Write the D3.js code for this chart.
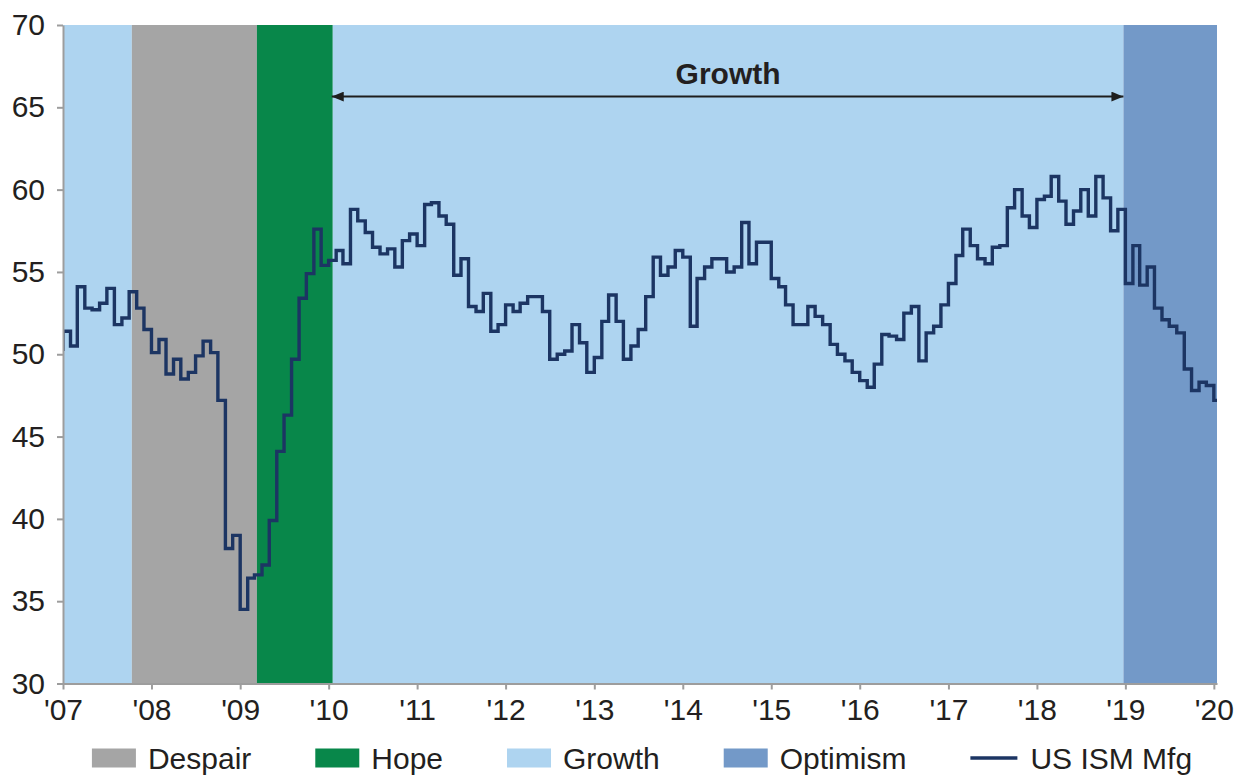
<!DOCTYPE html>
<html>
<head>
<meta charset="utf-8">
<script src="https://cdn.jsdelivr.net/npm/d3@7"></script>
<style>
  body { margin: 0; background: #ffffff; }
  svg { display: block; }
  text { font-family: "Liberation Sans", Arial, Helvetica, sans-serif; fill: #231f20; }
</style>
</head>
<body>
<svg id="chart" width="1238" height="776"></svg>
<script>
// US ISM Manufacturing PMI, monthly readings starting November 2006.
// Each reading is shown from the start of the month after the one it covers.
const firstMonth = "2006-11";
const ismValues = [
  50.3, 51.4,
  50.5, 54.1, 52.8, 52.7, 53.1, 54.0, 51.8, 52.2, 53.8, 52.8, 51.5, 50.1,   // 2007
  50.9, 48.8, 49.7, 48.5, 48.9, 49.9, 50.8, 50.1, 47.2, 38.2, 39.0, 34.5,   // 2008
  36.4, 36.6, 37.2, 39.9, 44.1, 46.3, 49.7, 53.4, 54.9, 57.6, 55.4, 55.7,   // 2009
  56.3, 55.5, 58.8, 58.1, 57.4, 56.5, 56.1, 56.4, 55.3, 56.9, 57.3, 56.6,   // 2010
  59.1, 59.2, 58.4, 57.9, 54.8, 55.8, 52.9, 52.6, 53.7, 51.4, 51.8, 53.0,   // 2011
  52.6, 53.1, 53.5, 53.5, 52.6, 49.7, 50.0, 50.2, 51.8, 50.7, 48.9, 49.8,   // 2012
  52.0, 53.6, 52.0, 49.7, 50.5, 51.5, 53.5, 55.9, 54.8, 55.3, 56.3, 55.9,   // 2013
  51.7, 54.6, 55.3, 55.8, 55.8, 55.0, 55.3, 58.0, 55.5, 56.8, 56.8, 54.6,   // 2014
  54.1, 53.0, 51.8, 51.8, 52.9, 52.3, 51.8, 50.6, 50.0, 49.6, 48.9, 48.4,   // 2015
  48.0, 49.4, 51.2, 51.1, 50.9, 52.5, 52.9, 49.6, 51.3, 51.7, 53.0, 54.3,   // 2016
  56.0, 57.6, 56.6, 55.8, 55.5, 56.5, 56.6, 58.9, 60.0, 58.4, 57.7, 59.4,   // 2017
  59.6, 60.8, 59.3, 57.9, 58.7, 60.0, 58.4, 60.8, 59.5, 57.5, 58.8, 54.3,   // 2018
  56.6, 54.2, 55.3, 52.8, 52.1, 51.7, 51.3, 49.1, 47.8, 48.3, 48.1, 47.2    // 2019
];

// Market-cycle phases shaded behind the line
const phaseNames  = ["Growth", "Despair", "Hope", "Growth", "Optimism"];
const phaseStarts = ["2007-01-01", "2007-10-12", "2009-03-11", "2010-01-18", "2018-12-24"];
const phaseEnds   = ["2007-10-12", "2009-03-11", "2010-01-18", "2018-12-24", "2020-01-14"];
const phaseColors = { Despair: "#a5a5a5", Hope: "#08874a", Growth: "#aed4f0", Optimism: "#7399c8" };

const yTicks = [30, 35, 40, 45, 50, 55, 60, 65, 70];
const xTickYears  = [2007, 2008, 2009, 2010, 2011, 2012, 2013, 2014, 2015, 2016, 2017, 2018, 2019, 2020];
const xTickLabels = ["'07", "'08", "'09", "'10", "'11", "'12", "'13", "'14", "'15", "'16", "'17", "'18", "'19", "'20"];

const legendNames = ["Despair", "Hope", "Growth", "Optimism", "US ISM Mfg"];
const lineColor = "#1c3563";

// Bracket marking the long growth phase
const bracketLabel = "Growth";
const bracketLevel = 65.65;
const bracketFrom = "2010-01-18";
const bracketTo = "2018-12-24";

const parseDay = d3.timeParse("%Y-%m-%d");
const parseMonth = d3.timeParse("%Y-%m");

const svg = d3.select("#chart");
const plot = { left: 63, right: 1217, top: 25, bottom: 683.5 };

const x = d3.scaleTime()
  .domain([parseDay(phaseStarts[0]), parseDay(phaseEnds[phaseEnds.length - 1])])
  .range([plot.left, plot.right]);
const y = d3.scaleLinear().domain([30, 70]).range([plot.bottom, plot.top]);

svg.append("defs").append("clipPath").attr("id", "plot-clip")
  .append("rect")
  .attr("x", plot.left).attr("y", plot.top)
  .attr("width", plot.right - plot.left).attr("height", plot.bottom - plot.top);

// Phase bands
const phases = phaseNames.map((name, i) => ({ name, start: parseDay(phaseStarts[i]), end: parseDay(phaseEnds[i]) }));
svg.append("g").selectAll("rect").data(phases).join("rect")
  .attr("x", d => x(d.start))
  .attr("width", d => x(d.end) - x(d.start))
  .attr("y", y(70))
  .attr("height", y(30) - y(70))
  .attr("fill", d => phaseColors[d.name]);

// Step line
const start = parseMonth(firstMonth);
const points = ismValues.map((v, i) => ({ date: d3.timeMonth.offset(start, i + 1), value: v }));
points.push({ date: x.domain()[1], value: ismValues[ismValues.length - 1] });

svg.append("path")
  .datum(points)
  .attr("clip-path", "url(#plot-clip)")
  .attr("fill", "none")
  .attr("stroke", lineColor)
  .attr("stroke-width", 3.4)
  .attr("stroke-linejoin", "miter")
  .attr("d", d3.line().x(d => x(d.date)).y(d => y(d.value)).curve(d3.curveStepAfter));

// Axes
const axisColor = "#9d9d9d";
const yAxis = svg.append("g")
  .attr("transform", `translate(${plot.left},0)`)
  .call(d3.axisLeft(y).tickValues(yTicks).tickSize(6).tickSizeOuter(0).tickPadding(12).tickFormat(d3.format("d")));
const xAxis = svg.append("g")
  .attr("transform", `translate(0,${plot.bottom})`)
  .call(d3.axisBottom(x)
    .tickValues(xTickYears.map(yr => new Date(yr, 0, 1)))
    .tickFormat((d, i) => xTickLabels[i])
    .tickSize(6).tickSizeOuter(0).tickPadding(9));

[yAxis, xAxis].forEach(g => {
  g.select(".domain").attr("stroke", axisColor).attr("stroke-width", 2);
  g.selectAll(".tick line").attr("stroke", axisColor).attr("stroke-width", 2);
  g.selectAll(".tick text").attr("fill", "#231f20").style("font-size", "30px")
    .style("font-family", '"Liberation Sans", Arial, sans-serif');
});

// Growth bracket with arrowheads
const defs = svg.select("defs");
["start", "end"].forEach(kind => {
  defs.append("marker")
    .attr("id", "arrow-" + kind)
    .attr("viewBox", "0 0 12 10")
    .attr("refX", kind === "end" ? 12 : 0).attr("refY", 5)
    .attr("markerWidth", 12).attr("markerHeight", 10)
    .attr("markerUnits", "userSpaceOnUse")
    .attr("orient", "auto")
    .append("path")
    .attr("d", kind === "end" ? "M0,0 L12,5 L0,10 Z" : "M12,0 L0,5 L12,10 Z")
    .attr("fill", "#1e1e1e");
});
svg.append("line")
  .attr("x1", x(parseDay(bracketFrom)) - 1).attr("x2", x(parseDay(bracketTo)))
  .attr("y1", y(bracketLevel)).attr("y2", y(bracketLevel))
  .attr("stroke", "#1e1e1e").attr("stroke-width", 2)
  .attr("marker-start", "url(#arrow-start)")
  .attr("marker-end", "url(#arrow-end)");
svg.append("text")
  .attr("x", (x(parseDay(bracketFrom)) + x(parseDay(bracketTo))) / 2)
  .attr("y", y(bracketLevel) - 13)
  .attr("text-anchor", "middle")
  .style("font-size", "30px").style("font-weight", "bold")
  .text(bracketLabel);

// Legend
const legend = svg.append("g").attr("transform", "translate(0,758)");
const swatchW = 44, swatchH = 19, swatchGap = 12, itemGap = 64;
const items = legend.selectAll("g").data(legendNames).join("g");
items.each(function (name) {
  const g = d3.select(this);
  if (name === "US ISM Mfg") {
    g.append("line").attr("x1", 0).attr("x2", 47).attr("y1", 0).attr("y2", 0)
      .attr("stroke", lineColor).attr("stroke-width", 3.4);
  } else {
    g.append("rect").attr("x", 0).attr("y", -swatchH / 2).attr("width", swatchW).attr("height", swatchH)
      .attr("fill", phaseColors[name]);
  }
  g.append("text")
    .attr("x", (name === "US ISM Mfg" ? 47 : swatchW) + swatchGap + (name === "US ISM Mfg" ? 1 : 0))
    .attr("y", 0).attr("dy", "0.36em")
    .style("font-size", "30px")
    .text(name);
});
let widths = [];
items.each(function () { widths.push(this.getBBox().width); });
const total = d3.sum(widths) + itemGap * (widths.length - 1);
let cursor = (plot.left + plot.right) / 2 - total / 2 + 2;
items.attr("transform", (d, i) => {
  const t = `translate(${cursor},0)`;
  cursor += widths[i] + itemGap;
  return t;
});
</script>
</body>
</html>
